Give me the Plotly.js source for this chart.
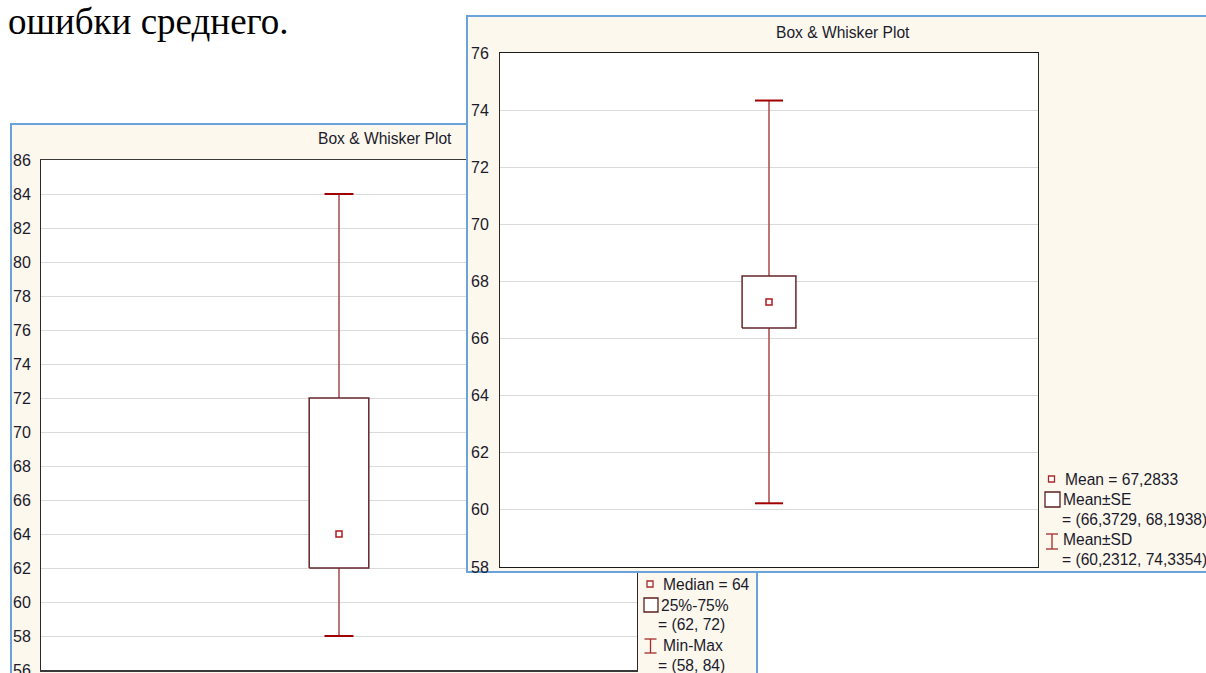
<!DOCTYPE html>
<html><head><meta charset="utf-8">
<script src="https://cdn.plot.ly/plotly-3.0.1.min.js"></script>
<style>html,body{margin:0;padding:0;background:#fff;overflow:hidden}#chart{width:1206px;height:673px}</style>
</head><body><div id="chart"></div>
<script>
// ---------- data ----------
const docText = 'ошибки среднего.';
const chartTitle = 'Box & Whisker Plot';

// left chart: median / quartiles / range
const leftMedian = [64];
const leftQ1 = [62];
const leftQ3 = [72];
const leftMin = [58];
const leftMax = [84];
const leftTicks = [56, 58, 60, 62, 64, 66, 68, 70, 72, 74, 76, 78, 80, 82, 84, 86];

// right chart: mean / SE / SD
const rightMean = [67.2833];
const rightSELow = [66.3729];
const rightSEHigh = [68.1938];
const rightSDLow = [60.2312];
const rightSDHigh = [74.3354];
const rightTicks = [58, 60, 62, 64, 66, 68, 70, 72, 74, 76];

// ---------- style ----------
const W = 1206, H = 673;
const CREAM = '#fdf8ee', BLUE = '#6aa2dc';
const WHISKER = '#a9474b', CAP = '#a00000', BOXLINE = '#64262a', MARK = '#b0191e';
const TXT = '#1b1b2b';
const SANS = 'Liberation Sans, Arial, sans-serif';
const HW = 0.1; // half box width in axis units

const px = v => v / W;
const py = v => 1 - v / H;
const fmt = v => String(v).replace('.', ',');

function boxTraces(xa, ya, center, boxLo, boxHi, wLo, wHi, capSize) {
  const out = [];
  center.forEach((c, i) => {
    out.push({type: 'scatter', xaxis: xa, yaxis: ya, x: [i, i], y: [wLo[i], wHi[i]],
      mode: 'lines+markers', line: {color: WHISKER, width: 1.5},
      marker: {symbol: 'line-ew', size: capSize, color: CAP, line: {color: CAP, width: 2}},
      hoverinfo: 'skip', showlegend: false});
    out.push({type: 'scatter', xaxis: xa, yaxis: ya,
      x: [i - HW, i + HW, i + HW, i - HW, i - HW],
      y: [boxLo[i], boxLo[i], boxHi[i], boxHi[i], boxLo[i]],
      mode: 'lines', fill: 'toself', fillcolor: '#ffffff', line: {color: BOXLINE, width: 1.5},
      hoverinfo: 'skip', showlegend: false});
    out.push({type: 'scatter', xaxis: xa, yaxis: ya, x: [i], y: [c], mode: 'markers',
      marker: {symbol: 'square-open', size: 6, color: MARK, line: {color: MARK, width: 1.5}},
      hoverinfo: 'skip', showlegend: false});
  });
  return out;
}
const placeholder = (xa, ya) => ({type: 'scatter', xaxis: xa, yaxis: ya, x: [0.5], y: [0.5],
  mode: 'markers', marker: {opacity: 0}, hoverinfo: 'skip', showlegend: false});

const traces = [].concat(
  [placeholder('x', 'y')],
  boxTraces('x2', 'y2', leftMedian, leftQ1, leftQ3, leftMin, leftMax, 20.7),
  [placeholder('x3', 'y3')],
  boxTraces('x4', 'y4', rightMean, rightSELow, rightSEHigh, rightSDLow, rightSDHigh, 20)
);

const hidden = (dom, anchor) => ({domain: dom, range: [0, 1], visible: false, anchor: anchor, fixedrange: true});
const plotX = (dom, anchor, lw, lc) => ({domain: dom, anchor: anchor, range: [-1, 1], showticklabels: false,
  showgrid: false, zeroline: false, showline: true, mirror: true, linecolor: lc, linewidth: lw, ticks: '', fixedrange: true});
const plotY = (dom, anchor, rng, ticks, font, standoff) => ({domain: dom, anchor: anchor, range: rng, tickvals: ticks,
  showgrid: true, gridcolor: '#dadada', gridwidth: 1, zeroline: false, showline: true, mirror: true,
  linecolor: '#2a2a2a', linewidth: 1, ticks: '', tickfont: font, ticklabelstandoff: standoff,
  ticklabeloverflow: 'allow', fixedrange: true});

const leftFont = {family: SANS, size: 16, color: TXT};
const rightFont = {family: SANS, size: 16, color: TXT};
const legFont = {family: SANS, size: 15.6, color: TXT};

function ann(text, x, y, font, xanchor) {
  return {text: text, xref: 'paper', yref: 'paper', x: px(x), y: py(y), xanchor: xanchor || 'left',
    yanchor: 'middle', showarrow: false, font: font, borderpad: 0};
}
function sq(x0, y0, x1, y1, color) {
  return {type: 'rect', xref: 'paper', yref: 'paper', layer: 'above', x0: px(x0), x1: px(x1), y0: py(y1), y1: py(y0),
    line: {color: color, width: 1.3}, fillcolor: 'rgba(255,255,255,1)'};
}
function ibeam(xc, y0, y1, half) {
  const l = {color: '#a52a2a', width: 1.3};
  return [
    {type: 'line', xref: 'paper', yref: 'paper', layer: 'above', x0: px(xc), x1: px(xc), y0: py(y0), y1: py(y1), line: l},
    {type: 'line', xref: 'paper', yref: 'paper', layer: 'above', x0: px(xc - half), x1: px(xc + half), y0: py(y0), y1: py(y0), line: l},
    {type: 'line', xref: 'paper', yref: 'paper', layer: 'above', x0: px(xc - half), x1: px(xc + half), y0: py(y1), y1: py(y1), line: l}
  ];
}

const shapes = [
  // left window panel
  {type: 'rect', xref: 'x', yref: 'y', layer: 'below', x0: 0, x1: 1, y0: -0.2, y1: 1,
    fillcolor: CREAM, line: {color: BLUE, width: 4}},
  // right window panel
  {type: 'rect', xref: 'x3', yref: 'y3', layer: 'below', x0: 0, x1: 1.2, y0: 0, y1: 1,
    fillcolor: CREAM, line: {color: BLUE, width: 4}},
  // left legend icons
  sq(647, 581, 653, 587, '#a52a2a'),
  sq(644, 598, 658, 612, '#5c1f1f'),
  ...ibeam(650.5, 639, 653, 6),
  // right legend icons
  sq(1048.5, 476, 1054.5, 482, '#a52a2a'),
  sq(1045, 492, 1060, 507, '#5c1f1f'),
  ...ibeam(1052, 534, 549, 6)
];

const annotations = [
  {text: docText, xref: 'paper', yref: 'paper', x: px(6), y: py(21), xanchor: 'left', yanchor: 'middle',
    showarrow: false, font: {family: 'Liberation Serif, Times New Roman, serif', size: 37, color: '#000'}},
  ann(chartTitle, 385, 139, {family: SANS, size: 15.6, color: TXT}, 'center'),
  ann(chartTitle, 843, 32, {family: SANS, size: 15.6, color: TXT}, 'center'),
  // left legend
  ann('Median = ' + fmt(leftMedian[0]), 662, 584, legFont),
  ann('25%-75%', 660, 605, legFont),
  ann('= (' + fmt(leftQ1[0]) + ', ' + fmt(leftQ3[0]) + ')', 657, 624, legFont),
  ann('Min-Max', 662, 645, legFont),
  ann('= (' + fmt(leftMin[0]) + ', ' + fmt(leftMax[0]) + ')', 657, 665, legFont),
  // right legend
  ann('Mean = ' + fmt(rightMean[0]), 1064, 479, legFont),
  ann('Mean±SE', 1062, 499, legFont),
  ann('= (' + fmt(rightSELow[0]) + ', ' + fmt(rightSEHigh[0]) + ')', 1061, 519, legFont),
  ann('Mean±SD', 1062, 539, legFont),
  ann('= (' + fmt(rightSDLow[0]) + ', ' + fmt(rightSDHigh[0]) + ')', 1061, 559, legFont)
];

const layout = {
  width: W, height: H, margin: {l: 0, r: 0, t: 0, b: 0, pad: 0},
  paper_bgcolor: '#ffffff', plot_bgcolor: '#ffffff', showlegend: false,
  xaxis: hidden([px(10), px(758)], 'y'),
  yaxis: hidden([0, py(123)], 'x'),
  xaxis2: plotX([px(41), px(637)], 'y2', 1.5, '#3a3a3a'),
  yaxis2: plotY([py(670), py(160)], 'x2', [56, 86], leftTicks, leftFont, 6),
  xaxis3: hidden([px(466), 1], 'y3'),
  yaxis3: hidden([py(573), py(15)], 'x3'),
  xaxis4: plotX([px(500), px(1038)], 'y4', 1, '#1a1a1a'),
  yaxis4: plotY([py(567), py(53)], 'x4', [58, 76], rightTicks, rightFont, 7),
  shapes: shapes,
  annotations: annotations
};

Plotly.newPlot('chart', traces, layout, {staticPlot: true, displayModeBar: false});
</script>
</body></html>
